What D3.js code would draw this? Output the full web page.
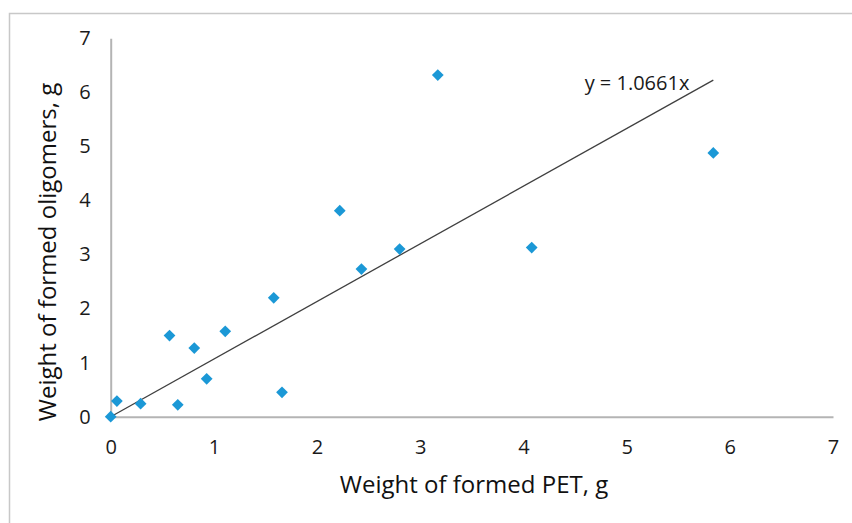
<!DOCTYPE html>
<html>
<head>
<meta charset="utf-8">
<script src="https://cdn.jsdelivr.net/npm/d3@7"></script>
<style>
html,body{margin:0;padding:0;background:#fff;}
svg{display:block;}
</style>
</head>
<body>
<svg id="chart" width="852" height="523"></svg>
<script>
const petWeight = [0, 0.06, 0.29, 0.65, 0.57, 0.81, 0.93, 1.11, 1.58, 1.66, 2.22, 2.43, 2.80, 3.17, 4.08, 5.84];
const oligomerWeight = [0, 0.29, 0.24, 0.22, 1.50, 1.27, 0.70, 1.58, 2.20, 0.45, 3.81, 2.73, 3.10, 6.32, 3.13, 4.88];
const xTicks = [0, 1, 2, 3, 4, 5, 6, 7];
const yTicks = [0, 1, 2, 3, 4, 5, 6, 7];
const slope = 1.0661;
const equationLabel = "y = 1.0661x";
const xTitle = "Weight of formed PET, g";
const yTitle = "Weight of formed oligomers, g";

const svg = d3.select("#chart");
const font = "'Open Sans', sans-serif";

// outer border
svg.append("path")
  .attr("d", "M9.5,523 L9.5,13.5 L852,13.5")
  .attr("fill", "none")
  .attr("stroke", "#c8c8c8")
  .attr("stroke-width", 1.5);

const x = d3.scaleLinear().domain([0, 7]).range([110.7, 833]);
const y = d3.scaleLinear().domain([0, 7]).range([416.7, 38.3]);

const xAxis = svg.append("g")
  .attr("transform", `translate(0,${y(0)})`)
  .call(d3.axisBottom(x).tickValues(xTicks).tickSize(0).tickPadding(24).tickFormat(d3.format("d")));
const yAxis = svg.append("g")
  .attr("transform", `translate(${x(0)},0)`)
  .call(d3.axisLeft(y).tickValues(yTicks).tickSize(0).tickPadding(20).tickFormat(d3.format("d")));

[xAxis, yAxis].forEach(g => {
  g.select(".domain").attr("stroke", "#b4b4b4").attr("stroke-width", 2);
  g.selectAll("text").attr("font-family", font).attr("font-size", 20).attr("fill", "#1a1a1a");
});
xAxis.selectAll("text").attr("dy", "0.32em").attr("y", 31);

// trend line
const xMax = d3.max(petWeight);
svg.append("line")
  .attr("x1", x(0)).attr("y1", y(0))
  .attr("x2", x(xMax)).attr("y2", y(slope * xMax))
  .attr("stroke", "#404040").attr("stroke-width", 1.3);

// points
const sym = d3.symbol().type(d3.symbolDiamond2).size(88);
svg.append("g").selectAll("path")
  .data(petWeight.map((v, i) => [v, oligomerWeight[i]]))
  .join("path")
  .attr("d", sym)
  .attr("transform", d => `translate(${x(d[0])},${y(d[1])})`)
  .attr("fill", "#1b98d6");

// equation label
svg.append("text")
  .attr("x", 637).attr("y", 90)
  .attr("text-anchor", "middle")
  .attr("font-family", font).attr("font-size", 20).attr("fill", "#1a1a1a")
  .text(equationLabel);

// axis titles
svg.append("text")
  .attr("x", 474).attr("y", 493)
  .attr("text-anchor", "middle")
  .attr("font-family", font).attr("font-size", 24).attr("fill", "#111")
  .text(xTitle);
svg.append("text")
  .attr("transform", "translate(56,252) rotate(-90)")
  .attr("text-anchor", "middle")
  .attr("font-family", font).attr("font-size", 24).attr("fill", "#111")
  .text(yTitle);
</script>
</body>
</html>
